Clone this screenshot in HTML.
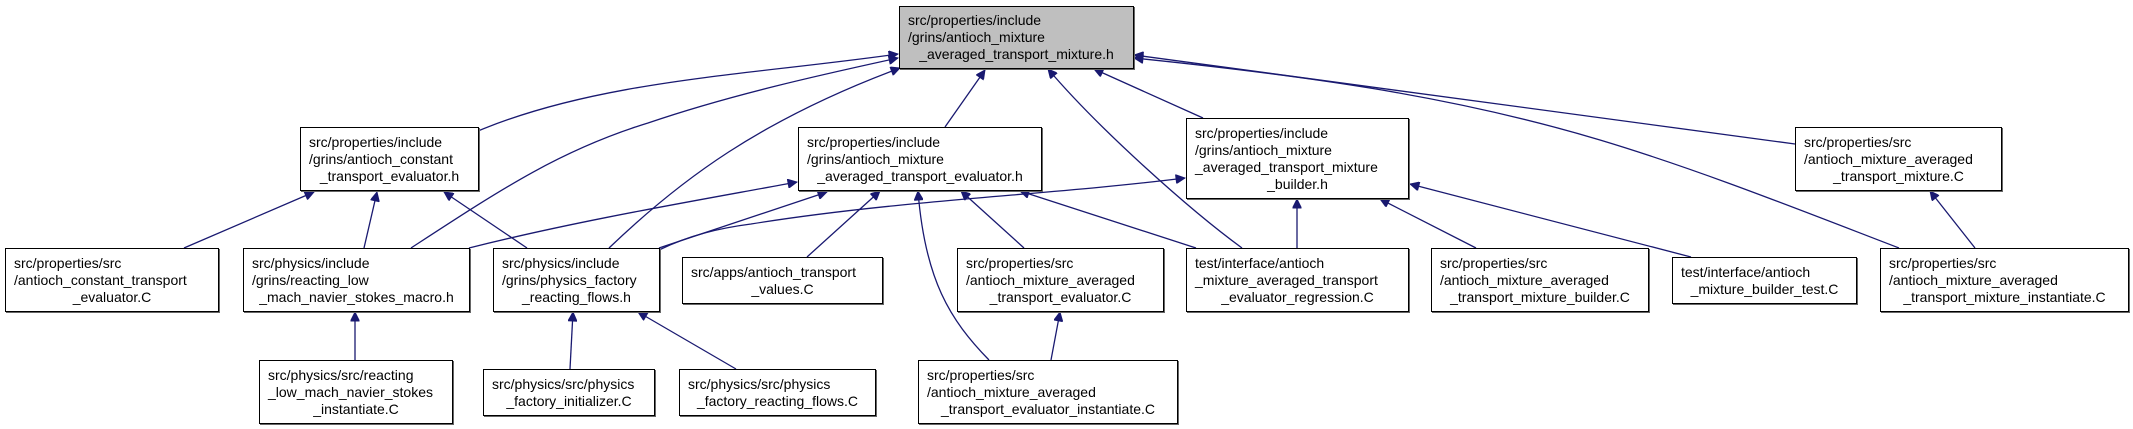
<!DOCTYPE html>
<html><head><meta charset="utf-8">
<style>
html,body{margin:0;padding:0;background:#fff;}
body{width:2133px;height:429px;position:relative;overflow:hidden;font-family:"Liberation Sans",sans-serif;font-size:14px;color:#000;}
.n{position:absolute;box-sizing:border-box;border:1px solid #000;background:#fff;display:flex;flex-direction:column;justify-content:center;padding:0 8px;line-height:17px;white-space:nowrap;box-shadow:1px 1px 0 #666;}
.n div{text-align:left;}
.n div.c{text-align:center;}
.g{background:#bfbfbf;}
svg{position:absolute;left:0;top:0;}
</style></head><body>
<svg width="2133" height="429" viewBox="0 0 2133 429">
<defs><marker id="a" viewBox="0 0 10 10" refX="10" refY="5" markerWidth="11" markerHeight="9" markerUnits="userSpaceOnUse" orient="auto"><path d="M0,0 L10,5 L0,10 z" fill="#191970" stroke="#191970"/></marker></defs>
<g fill="none" stroke="#191970" stroke-width="1.3" marker-end="url(#a)">
<path d="M478,131 C600,80 750,75 898,54"/>
<path d="M411,248 C500,190 560,150 648,123 C730,95 820,75 898,58"/>
<path d="M609,248 C680,180 760,120 900,68"/>
<path d="M945,127 L985,70"/>
<path d="M1242,248 C1190,210 1100,130 1048,69"/>
<path d="M1203,118 L1094,69"/>
<path d="M1899,248 C1800,210 1700,170 1600,140 C1450,95 1300,75 1134,58"/>
<path d="M1795,144 L1134,55"/>
<path d="M184,248 L314,192"/>
<path d="M364,248 L377,192"/>
<path d="M527,248 L444,192"/>
<path d="M469,248 C580,220 700,200 797,182"/>
<path d="M659,248 L827,192"/>
<path d="M807,257 L880,191"/>
<path d="M989,360 C950,320 925,280 918,191"/>
<path d="M1024,248 L961,191"/>
<path d="M1196,248 L1020,191"/>
<path d="M659,250 C690,235 720,228 751,224 C900,200 1050,195 1185,178"/>
<path d="M1297,248 L1297,199"/>
<path d="M1476,248 L1380,199"/>
<path d="M1691,257 L1410,184"/>
<path d="M1975,248 L1930,191"/>
<path d="M1051,360 L1060,312"/>
<path d="M355,360 L355,312"/>
<path d="M570,369 L573,312"/>
<path d="M736,369 L638,312"/>
</g></svg>

<div class="n g" style="left:899px;top:6px;width:235px;height:63px;"><div>src/properties/include</div><div>/grins/antioch_mixture</div><div class="c">_averaged_transport_mixture.h</div></div>
<div class="n" style="left:300px;top:127px;width:179px;height:64px;"><div>src/properties/include</div><div>/grins/antioch_constant</div><div class="c">_transport_evaluator.h</div></div>
<div class="n" style="left:798px;top:127px;width:244px;height:64px;"><div>src/properties/include</div><div>/grins/antioch_mixture</div><div class="c">_averaged_transport_evaluator.h</div></div>
<div class="n" style="left:1186px;top:118px;width:223px;height:81px;"><div>src/properties/include</div><div>/grins/antioch_mixture</div><div>_averaged_transport_mixture</div><div class="c">_builder.h</div></div>
<div class="n" style="left:1795px;top:127px;width:207px;height:64px;"><div>src/properties/src</div><div>/antioch_mixture_averaged</div><div class="c">_transport_mixture.C</div></div>

<div class="n" style="left:5px;top:248px;width:214px;height:64px;"><div>src/properties/src</div><div>/antioch_constant_transport</div><div class="c">_evaluator.C</div></div>
<div class="n" style="left:243px;top:248px;width:227px;height:64px;"><div>src/physics/include</div><div>/grins/reacting_low</div><div class="c">_mach_navier_stokes_macro.h</div></div>
<div class="n" style="left:493px;top:248px;width:167px;height:64px;"><div>src/physics/include</div><div>/grins/physics_factory</div><div class="c">_reacting_flows.h</div></div>
<div class="n" style="left:682px;top:257px;width:201px;height:47px;"><div>src/apps/antioch_transport</div><div class="c">_values.C</div></div>
<div class="n" style="left:957px;top:248px;width:207px;height:64px;"><div>src/properties/src</div><div>/antioch_mixture_averaged</div><div class="c">_transport_evaluator.C</div></div>
<div class="n" style="left:1186px;top:248px;width:223px;height:64px;"><div>test/interface/antioch</div><div>_mixture_averaged_transport</div><div class="c">_evaluator_regression.C</div></div>
<div class="n" style="left:1431px;top:248px;width:218px;height:64px;"><div>src/properties/src</div><div>/antioch_mixture_averaged</div><div class="c">_transport_mixture_builder.C</div></div>
<div class="n" style="left:1672px;top:257px;width:185px;height:47px;"><div>test/interface/antioch</div><div class="c">_mixture_builder_test.C</div></div>
<div class="n" style="left:1880px;top:248px;width:249px;height:64px;"><div>src/properties/src</div><div>/antioch_mixture_averaged</div><div class="c">_transport_mixture_instantiate.C</div></div>

<div class="n" style="left:259px;top:360px;width:194px;height:64px;"><div>src/physics/src/reacting</div><div>_low_mach_navier_stokes</div><div class="c">_instantiate.C</div></div>
<div class="n" style="left:483px;top:369px;width:172px;height:47px;"><div>src/physics/src/physics</div><div class="c">_factory_initializer.C</div></div>
<div class="n" style="left:679px;top:369px;width:197px;height:47px;"><div>src/physics/src/physics</div><div class="c">_factory_reacting_flows.C</div></div>
<div class="n" style="left:918px;top:360px;width:260px;height:64px;"><div>src/properties/src</div><div>/antioch_mixture_averaged</div><div class="c">_transport_evaluator_instantiate.C</div></div>
</body></html>
